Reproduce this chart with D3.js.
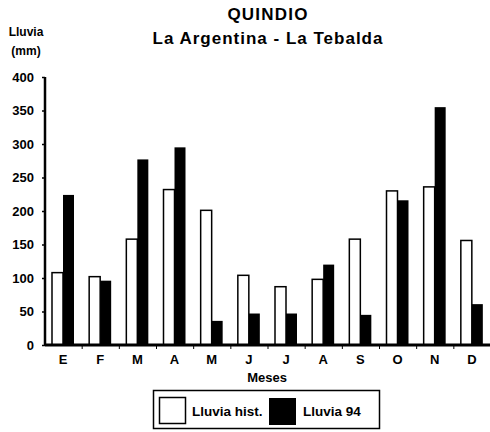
<!DOCTYPE html>
<html>
<head>
<meta charset="utf-8">
<script src="https://cdn.jsdelivr.net/npm/d3@7"></script>
<style>
  body { margin: 0; background: #fff; }
  text { font-family: "Liberation Sans", Arial, sans-serif; font-weight: bold; fill: #000; }
</style>
</head>
<body>
<svg id="chart" width="490" height="432"></svg>
<script>
const months = ["E","F","M","A","M","J","J","A","S","O","N","D"];
const lluviaHist = [108,102,158,232,201,104,87,98,158,230,236,156];
const lluvia94 = [224,96,277,295,36,47,47,120,45,216,355,61];
const yTicks = [0,50,100,150,200,250,300,350,400];
const seriesNames = ["Lluvia hist.","Lluvia 94"];

const svg = d3.select("#chart");
const pLeft = 45, pRight = 491, pTop = 77, pBottom = 345;
const FONT = '"Liberation Sans", Arial, sans-serif';

const x0 = d3.scaleBand().domain(d3.range(months.length)).range([pLeft, pRight]).padding(0);
const x1 = d3.scaleBand().domain([0,1]).range([7, 29]).padding(0);
const y = d3.scaleLinear().domain([0,400]).range([pBottom, pTop]);

// Title
svg.append("text").attr("x", 268).attr("y", 20).attr("text-anchor","middle")
  .style("font-size","17px").style("letter-spacing","1.2px").text("QUINDIO");
svg.append("text").attr("x", 268).attr("y", 44).attr("text-anchor","middle")
  .style("font-size","17px").style("letter-spacing","1px").text("La Argentina - La Tebalda");

// Y axis title
svg.append("text").attr("x", 26).attr("y", 36).attr("text-anchor","middle")
  .style("font-size","12px").text("Lluvia");
svg.append("text").attr("x", 26).attr("y", 55).attr("text-anchor","middle")
  .style("font-size","12px").text("(mm)");

// Bars
const groups = svg.append("g").selectAll("g").data(months).join("g")
  .attr("transform", (d,i) => `translate(${x0(i)},0)`);
groups.append("rect")
  .attr("x", x1(0)).attr("width", x1.bandwidth())
  .attr("y", (d,i) => y(lluviaHist[i])).attr("height", (d,i) => pBottom - y(lluviaHist[i]))
  .attr("fill", "#fff").attr("stroke", "#000").attr("stroke-width", 1.5);
groups.append("rect")
  .attr("x", x1(1)).attr("width", x1.bandwidth())
  .attr("y", (d,i) => y(lluvia94[i])).attr("height", (d,i) => pBottom - y(lluvia94[i]))
  .attr("fill", "#000");

// Y axis
const yAxis = d3.axisLeft(y).tickValues(yTicks).tickSize(3).tickPadding(8);
const ya = svg.append("g").attr("transform", `translate(${pLeft},0)`).call(yAxis);
ya.select(".domain").attr("stroke", "#000").attr("stroke-width", 2.5).attr("d", `M0,${pTop}V${pBottom}`);
ya.selectAll(".tick line").attr("stroke", "#000").attr("stroke-width", 1.5);
ya.selectAll(".tick text").style("font-size","13px").style("font-family",FONT).style("font-weight","bold");

// X axis
const xAxis = d3.axisBottom(x0).tickFormat(i => months[i]).tickSize(0).tickPadding(10);
const xa = svg.append("g").attr("transform", `translate(0,${pBottom})`).call(xAxis);
xa.select(".domain").attr("stroke", "#000").attr("stroke-width", 3).attr("d", `M${pLeft},0H${pRight}`);
xa.selectAll(".tick").attr("transform", (i) => `translate(${x0(i) + 18},0)`);
xa.selectAll(".tick text").style("font-size","13px").style("font-family",FONT).style("font-weight","bold");
// small tick marks between groups
svg.append("g").selectAll("line").data(d3.range(1, months.length)).join("line")
  .attr("x1", i => x0(i)).attr("x2", i => x0(i))
  .attr("y1", pBottom).attr("y2", pBottom + 4)
  .attr("stroke", "#000").attr("stroke-width", 1);

svg.append("text").attr("x", 267).attr("y", 382).attr("text-anchor","middle")
  .style("font-size","13px").text("Meses");

// Legend
const lg = svg.append("g");
lg.append("rect").attr("x", 153.5).attr("y", 390.5).attr("width", 226).attr("height", 38)
  .attr("fill", "#fff").attr("stroke", "#000").attr("stroke-width", 1.5);
lg.append("rect").attr("x", 159.5).attr("y", 397.5).attr("width", 26).attr("height", 26)
  .attr("fill", "#fff").attr("stroke", "#000").attr("stroke-width", 1.5);
lg.append("text").attr("x", 192).attr("y", 416).style("font-size","13.5px").text(seriesNames[0]);
lg.append("rect").attr("x", 269).attr("y", 398).attr("width", 27).attr("height", 27).attr("fill", "#000");
lg.append("text").attr("x", 303).attr("y", 416).style("font-size","13.5px").text(seriesNames[1]);
</script>
</body>
</html>
